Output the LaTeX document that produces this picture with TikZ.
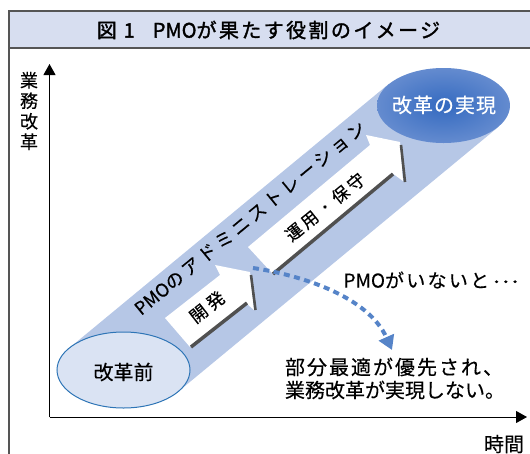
\documentclass[tikz,border=0pt]{standalone}
\usepackage{fontspec}
\setmainfont{Noto Sans CJK JP}[FakeBold=0.35]
\usetikzlibrary{shapes.geometric,arrows.meta}
\definecolor{titlebg}{RGB}{215,222,240}
\definecolor{framegray}{RGB}{85,85,85}
\definecolor{bandblue}{RGB}{182,199,230}
\definecolor{ellfill}{RGB}{218,227,243}
\definecolor{ellstroke}{RGB}{46,117,182}
\definecolor{ellinner}{RGB}{52,106,192}
\definecolor{ellouter}{RGB}{148,172,222}
\definecolor{shadowgray}{RGB}{80,80,80}
\definecolor{dashblue}{RGB}{86,132,200}
\pgfdeclareradialshading{goalshade}{\pgfpoint{0bp}{0bp}}{color(0bp)=(ellinner); color(50bp)=(ellouter); color(70bp)=(ellouter)}
\newcommand{\fs}[2]{\fontsize{#1}{#2}\selectfont}
\newcommand{\ls}[2]{{\addfontfeature{LetterSpace=#1}#2}}
\begin{document}
\begin{tikzpicture}[x=1pt,y=-1pt,
  frameline/.style={draw=framegray,line width=1.5pt},
  axisline/.style={line width=1pt,-{Triangle[length=11pt,width=12pt]}},
  stepbox/.style={fill=white},
  shadowline/.style={draw=shadowgray,line width=3.5pt},
  vshadow/.style={draw=shadowgray,line width=2.6pt},
  lbl/.style={inner sep=0pt,outer sep=0pt},
  ]
\useasboundingbox (0,0) rectangle (530,453);
% title
\fill[titlebg] (9,11) rectangle (531,48);
\draw[frameline] (531,11) -- (9,11) -- (9,454);
\draw[frameline] (9,48) -- (531,48);
\node[lbl,font=\fs{20}{20}\addfontfeature{FakeBold=1.6}] (title) at (268.5,30) {\ls{12}{図 1}\hspace{0.9em}PMO\ls{12}{が果たす役割のイメージ}};
% axes
\coordinate (O) at (49.5,417);
\coordinate (ytip) at (49.5,64);
\coordinate (xtip) at (527,417);
\draw[axisline] (O) -- (ytip);
\draw[axisline] (O) -- (xtip);
\node[lbl,align=center,font=\fs{18}{20.5}] (ylab) at (29,111) {業\\務\\改\\革};
\node[lbl,font=\fs{20}{20}] (xlab) at (504,444) {時間};
% band
\coordinate (b1) at (68.8,348.4);
\coordinate (b2) at (388.8,83.9);
\coordinate (b3) at (498.2,127.1);
\coordinate (b4) at (178.2,391.6);
\fill[bandblue] (b1) -- (b2) -- (b3) -- (b4) -- cycle;
% step arrow 1
\fill[stepbox] (165,318) -- (220,275) -- (215,265) -- (250,272) -- (254,310) -- (246,303) -- (190,347) -- cycle;
\coordinate (s1a) at (191,347);
\coordinate (s1b) at (247,303);
\coordinate (s1c) at (251,275);
\coordinate (s1d) at (255.5,310);
\draw[shadowline] (s1a) -- (s1b);
\draw[vshadow] (s1c) -- (s1d);
% step arrow 2
\fill[stepbox] (248,247) -- (370,145) -- (366,135) -- (400,142) -- (403,181) -- (392,173) -- (272,273) -- cycle;
\coordinate (s2a) at (273,274);
\coordinate (s2b) at (393,174);
\coordinate (s2c) at (401,145);
\coordinate (s2d) at (405,182);
\draw[shadowline] (s2a) -- (s2b);
\draw[vshadow] (s2c) -- (s2d);
% ellipses
\node[ellipse,fill=ellfill,draw=ellstroke,line width=1pt,minimum width=133pt,minimum height=76pt,inner sep=0pt] (start) at (123.5,370) {};
\node[lbl,font=\fs{20}{20}] (startlab) at (123.5,372) {改革前};
\node[ellipse,shading=goalshade,minimum width=133pt,minimum height=75pt,inner sep=0pt] (goal) at (443.5,105.5) {};
\node[lbl,text=white,font=\fs{20}{20}] (goallab) at (444,105) {\ls{5}{改革の実現}};
% labels along band
\node[lbl,font=\fs{18}{18},rotate=39.5] (pmoadmin) at (250,218) {PMO\ls{19}{のアドミニストレーション}};
\node[lbl,font=\fs{17.5}{17.5},rotate=38] (kaihatsu) at (207,307) {\ls{22}{開発}};
\node[lbl,font=\fs{17}{17},rotate=39] (unyo) at (325,207) {\ls{17}{運用・保守}};
% dashed arrow
\coordinate (dstart) at (253,268);
\coordinate (dend) at (392,350);
\draw[dashblue,line width=4pt,dash pattern=on 6pt off 4.5pt,-{Triangle[length=14pt,width=16pt]}] (dstart) .. controls (300,275) and (368,296) .. (dend);
\node[lbl,font=\fs{19}{19}] (nopmo) at (431,280) {PMO\ls{12}{がいないと}\,\raisebox{0.25em}{\scalebox{1.3}[1]{…}}};
\node[lbl,anchor=west,align=left,font=\fs{20}{23}] (result) at (285,378.5) {\hbox to 218pt{部\hfil 分\hfil 最\hfil 適\hfil が\hfil 優\hfil 先\hfil さ\hfil れ\hfil 、}\\業務改革が実現しない。};
\end{tikzpicture}
\end{document}
